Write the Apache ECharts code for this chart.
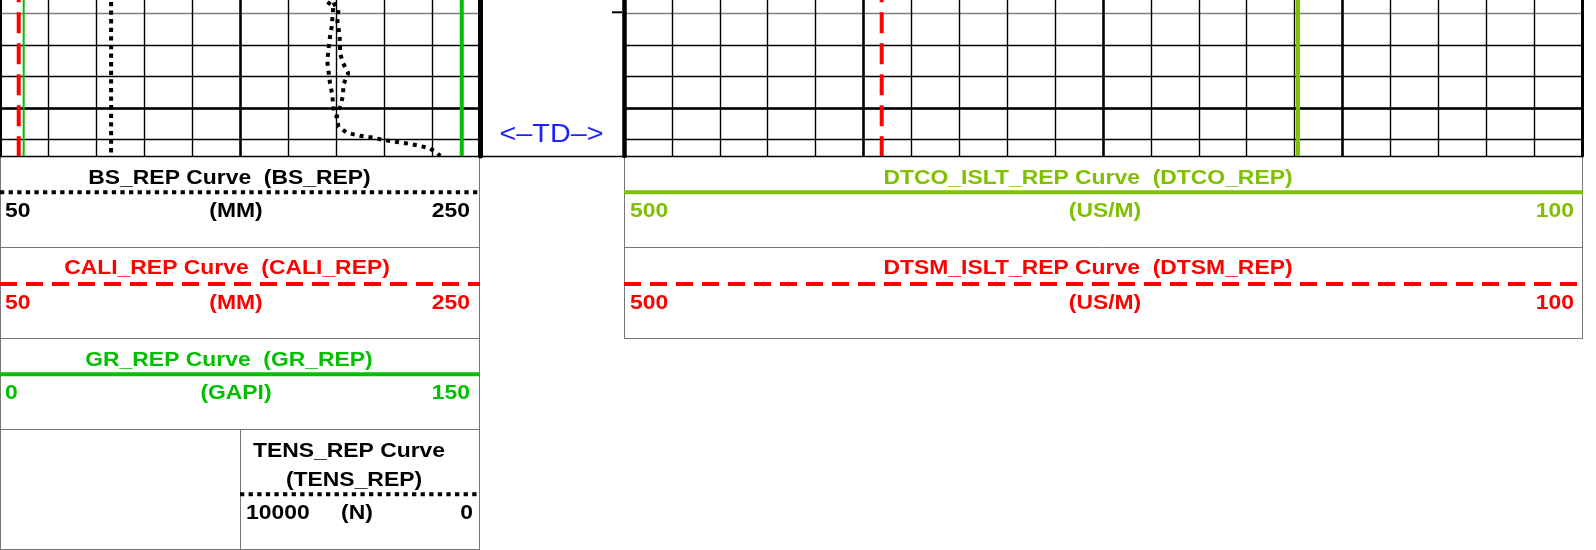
<!DOCTYPE html>
<html>
<head>
<meta charset="utf-8">
<style>
html,body{margin:0;padding:0;background:#fff;}
#container{width:1596px;height:550px;}
</style>
</head>
<body>
<div id="container"></div>
<script src="https://cdn.jsdelivr.net/npm/echarts@6.0.0/dist/echarts.min.js"></script>
<script>
// depth window (m)
var depthMin = 2565, depthMax = 2571.53;

// flat curves over the window: [top, bottom]
var flatDepth = [2565, 2571.53];
var bsRep = [96.3, 96.3];
var caliRep = [57.8, 57.8];
var grRep = [144.3, 144.3];
var grThin = [7.4, 7.4];
var dtcoRep = [218.6, 218.6];
var dtsmRep = [392.4, 392.4];

// tension, main pass
var tensDepth = [2566.40, 2566.58, 2566.90, 2567.27, 2567.64, 2567.95, 2568.27, 2568.59, 2568.90, 2569.28, 2569.59,
                 2569.97, 2570.28, 2570.60, 2570.79, 2570.89, 2570.94, 2571.02, 2571.08, 2571.13, 2571.20, 2571.27,
                 2571.43, 2571.53];
var tensRep = [3120, 3090, 2950, 2970, 2930, 2915, 2915, 2850, 2745, 2850, 2850,
               2915, 2985, 2950, 2775, 2500, 2255, 2015, 1770, 1525, 1285, 1075,
               890, 830];
// tension, second strand
var tens2Depth = [2566.40, 2566.58, 2566.79, 2567.43, 2567.74, 2568.17, 2568.54, 2569.22, 2569.59, 2569.97, 2570.23, 2570.28];
var tens2Rep = [3260, 3229, 3056, 3090, 3125, 3160, 3181, 3125, 3077, 3056, 3021, 2985];

function pairs(vals, depths) {
    return vals.map(function (v, i) { return [v, depths[i]]; });
}

var myChart = echarts.init(document.getElementById('container'));

var minorColors = ['#000', '#000', '#808080', '#000', '#000', '#000', '#000', '#000'];
var hdrFont = 'bold 21px "Liberation Sans", Arial, sans-serif';
var GREEN = '#00c000', LIME = '#80c000', RED = '#ff0000', FRAME = '#777';

function label(txt, x, y, color, align) {
    return {
        type: 'text', x: x, y: y, scaleX: 1.09, silent: true,
        style: {text: txt, fill: color, font: hdrFont, textAlign: align || 'center', textVerticalAlign: 'middle'}
    };
}
function hline(x1, x2, y, color, width, dash) {
    return {type: 'line', silent: true, shape: {x1: x1, y1: y, x2: x2, y2: y},
        style: {stroke: color, lineWidth: width, lineDash: dash || null}};
}
function vline(x, y1, y2, color, width) {
    return {type: 'line', silent: true, shape: {x1: x, y1: y1, x2: x, y2: y2},
        style: {stroke: color, lineWidth: width}};
}

function depthAxis(grid, pos, interval, border, split) {
    return {
        gridIndex: grid, type: 'value', inverse: true, min: depthMin, max: depthMax, interval: interval,
        position: pos,
        axisLine: {show: border > 0, onZero: false, lineStyle: {color: '#000', width: border}},
        axisTick: {show: false}, axisLabel: {show: false},
        splitLine: split
    };
}
function gridX(grid, max, interval, width) {
    return {
        gridIndex: grid, type: 'value', min: 0, max: max, interval: interval,
        axisLine: {show: false}, axisTick: {show: false}, axisLabel: {show: false},
        splitLine: {show: true, showMinLine: false, showMaxLine: false, lineStyle: {color: '#000', width: width}}
    };
}
function curveX(grid, min, max, inverse) {
    return {gridIndex: grid, type: 'value', show: false, min: min, max: max, inverse: !!inverse};
}
function curve(name, data, xi, yi, color, width, dash) {
    return {
        name: name, type: 'line', xAxisIndex: xi, yAxisIndex: yi, data: data,
        symbol: 'none', silent: true,
        lineStyle: {color: color, width: width, type: dash || 'solid', cap: 'butt'}
    };
}

// the depth grids start above the visible area
function track(left, width) {
    return {left: left, top: -49.7, width: width, height: 205.7, outerBoundsMode: 'none', containLabel: false};
}

option = {
    backgroundColor: '#fff',
    animation: false,
    grid: [
        track(0, 480),
        track(480, 144),
        track(624, 958)
    ],
    xAxis: [
        gridX(0, 10, 1, 1.4),
        gridX(0, 10, 5, 2.5),
        curveX(0, 50, 250),
        curveX(0, 50, 250),
        curveX(0, 0, 150),
        curveX(0, 0, 10000, true),
        {gridIndex: 1, type: 'value', min: 0, max: 1, axisLine: {show: true, onZero: false, lineStyle: {color: '#000', width: 1.4}},
            axisTick: {show: false}, axisLabel: {show: false}, splitLine: {show: false}},
        gridX(2, 20, 1, 1.4),
        gridX(2, 20, 5, 2.5),
        curveX(2, 100, 500, true),
        curveX(2, 100, 500, true)
    ],
    yAxis: [
        depthAxis(0, 'left', 1, 3, {show: true, lineStyle: {color: minorColors, width: 1.4}}),
        depthAxis(0, 'right', 5, 5, {show: true, showMaxLine: false, lineStyle: {color: '#000', width: 2.5}}),
        depthAxis(1, 'right', 1, 4.5, {show: false}),
        depthAxis(2, 'left', 1, 0, {show: true, lineStyle: {color: minorColors, width: 1.4}}),
        depthAxis(2, 'right', 5, 3, {show: true, showMaxLine: false, lineStyle: {color: '#000', width: 2.5}})
    ],
    series: [
        curve('BS_REP', pairs(bsRep, flatDepth), 2, 0, '#000', 4, [4.3, 4.3]),
        curve('CALI_REP', pairs(caliRep, flatDepth), 3, 0, RED, 4, [21, 10]),
        curve('GR_REP', pairs(grRep, flatDepth), 4, 0, GREEN, 4),
        curve('GR_REP thin', pairs(grThin, flatDepth), 4, 0, GREEN, 2),
        curve('TENS_REP', pairs(tensRep, tensDepth), 5, 0, '#000', 4, [4, 5]),
        curve('TENS_REP 2', pairs(tens2Rep, tens2Depth), 5, 0, '#000', 4, [4, 5]),
        curve('DTCO_REP', pairs(dtcoRep, flatDepth), 9, 3, LIME, 4),
        curve('DTSM_REP', pairs(dtsmRep, flatDepth), 10, 3, RED, 4, [21, 10])
    ],
    graphic: [
        // header frames
        vline(0.5, 156, 550, FRAME, 1),
        vline(479.5, 156, 550, FRAME, 1),
        vline(240.5, 429.5, 550, FRAME, 1),
        hline(0, 480, 247.5, FRAME, 1),
        hline(0, 480, 338.5, FRAME, 1),
        hline(0, 480, 429.5, FRAME, 1),
        hline(0, 480, 549.5, FRAME, 1),
        vline(624.5, 156, 339, FRAME, 1),
        vline(1582.5, 156, 339, FRAME, 1),
        hline(624, 1583, 247.5, FRAME, 1),
        hline(624, 1583, 338.5, FRAME, 1),

        // BS
        label('BS_REP Curve  (BS_REP)', 229.5, 178, '#000'),
        hline(0, 480, 192.3, '#000', 4, [4.3, 4.3]),
        label('50', 5, 211.7, '#000', 'left'),
        label('(MM)', 236, 211.7, '#000'),
        label('250', 470, 211.7, '#000', 'right'),
        // CALI
        label('CALI_REP Curve  (CALI_REP)', 227, 268.3, RED),
        hline(0, 480, 284, RED, 4, [17, 9]),
        label('50', 5, 303.3, RED, 'left'),
        label('(MM)', 236, 303.3, RED),
        label('250', 470, 303.3, RED, 'right'),
        // GR
        label('GR_REP Curve  (GR_REP)', 229, 360.7, GREEN),
        hline(0, 480, 374.3, GREEN, 4),
        label('0', 5, 393.3, GREEN, 'left'),
        label('(GAPI)', 236, 393.3, GREEN),
        label('150', 470, 393.3, GREEN, 'right'),
        // TENS
        label('TENS_REP Curve', 349, 451.7, '#000'),
        label('(TENS_REP)', 354, 480.5, '#000'),
        hline(240, 480, 494.3, '#000', 4, [4.3, 4.3]),
        label('10000', 246, 513.3, '#000', 'left'),
        label('(N)', 357, 513.3, '#000'),
        label('0', 473, 513.3, '#000', 'right'),
        // DTCO
        label('DTCO_ISLT_REP Curve  (DTCO_REP)', 1088, 178, LIME),
        hline(624, 1583, 192.3, LIME, 4),
        label('500', 630, 211.7, LIME, 'left'),
        label('(US/M)', 1105, 211.7, LIME),
        label('100', 1574, 211.7, LIME, 'right'),
        // DTSM
        label('DTSM_ISLT_REP Curve  (DTSM_REP)', 1088, 268.3, RED),
        hline(624, 1583, 284, RED, 4, [17, 9]),
        label('500', 630, 303.3, RED, 'left'),
        label('(US/M)', 1105, 303.3, RED),
        label('100', 1574, 303.3, RED, 'right'),

        // depth track
        hline(612, 622, 12.3, '#000', 2),
        {
            type: 'text', x: 551.5, y: 135, scaleX: 1.15, silent: true,
            style: {text: '<\u2013TD\u2013>', fill: '#2020ff', font: '25px "Liberation Sans", Arial, sans-serif',
                textAlign: 'center', textVerticalAlign: 'middle'}
        }
    ]
};

if (option && typeof option === "object") {
    myChart.setOption(option, true);
}
</script>
</body>
</html>
